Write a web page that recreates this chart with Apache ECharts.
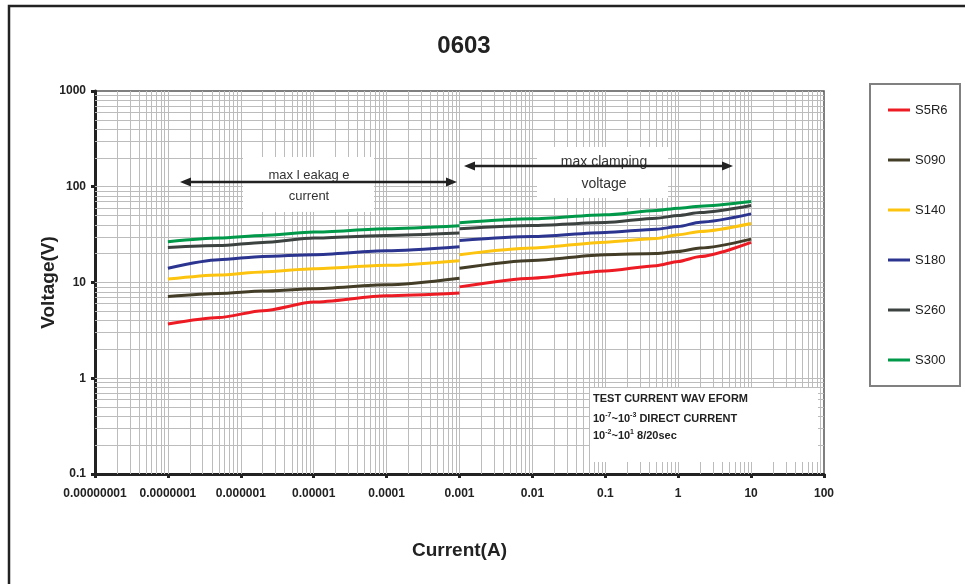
<!DOCTYPE html>
<html>
<head>
<meta charset="utf-8">
<script src="https://cdn.jsdelivr.net/npm/echarts@6/dist/echarts.min.js"></script>
<style>html,body{margin:0;padding:0;background:#fff;}#c{width:965px;height:584px;}</style>
</head>
<body>
<div id="c"></div>
<script>
const seriesNames = ['S5R6', 'S090', 'S140', 'S180', 'S260', 'S300'];
const seriesColors = ['#ed1c24', '#433d27', '#fdc40f', '#2b3590', '#3b4240', '#00994a'];
const xLeak = [1e-7, 5e-7, 2e-6, 1e-5, 1e-4, 1e-3];
const xClamp = [1e-3, 1e-2, 1e-1, 0.5, 1, 2, 10];
const leakS5R6 = [3.68, 4.31, 5.07, 6.24, 7.26, 7.75];
const leakS090 = [7.14, 7.68, 8.13, 8.6, 9.46, 11.1];
const leakS140 = [10.85, 12.0, 12.9, 13.9, 15.1, 16.9];
const leakS180 = [14.1, 17.3, 18.7, 19.5, 21.4, 23.6];
const leakS260 = [23.2, 24.3, 26.2, 29.1, 31.0, 32.8];
const leakS300 = [26.6, 29.1, 31.0, 33.6, 36.4, 39.1];
const clampS5R6 = [9.0, 11.1, 13.2, 15.0, 16.6, 18.7, 26.2];
const clampS090 = [14.1, 17.0, 19.5, 20.1, 21.1, 22.9, 28.4];
const clampS140 = [19.5, 22.9, 26.4, 28.8, 31.5, 34.1, 41.3];
const clampS180 = [27.4, 30.2, 33.3, 36.0, 38.4, 42.7, 52.1];
const clampS260 = [36.4, 39.4, 42.3, 47.0, 50.0, 53.8, 63.7];
const clampS300 = [42.0, 46.2, 50.9, 56.5, 59.8, 62.7, 70.1];
const leakValues = [leakS5R6, leakS090, leakS140, leakS180, leakS260, leakS300];
const clampValues = [clampS5R6, clampS090, clampS140, clampS180, clampS260, clampS300];
const xMin = 1e-8, xMax = 100, yMin = 0.1, yMax = 1000;

const FONT = "'Liberation Sans', Arial, sans-serif";

function gridValues(min, max) {
  const out = [];
  const e0 = Math.round(Math.log10(min)), e1 = Math.round(Math.log10(max));
  for (let e = e0; e < e1; e++) {
    for (let m = 1; m <= 9; m++) {
      if (e === e0 && m === 1) continue;
      out.push(m * Math.pow(10, e));
    }
  }
  return out;
}
function fmt(v) {
  const e = Math.round(Math.log10(v));
  return e < 0 ? '0.' + '0'.repeat(-e - 1) + '1' : String(Math.round(Math.pow(10, e)));
}

const gridLineData = gridValues(xMin, xMax).map(v => ({ coords: [[v, yMin], [v, yMax]] }))
  .concat(gridValues(yMin, yMax).map(v => ({ coords: [[xMin, v], [xMax, v]] })));

const series = [];
series.push({
  type: 'lines', name: 'grid', coordinateSystem: 'cartesian2d', z: 1, silent: true, animation: false,
  polyline: false, effect: { show: false },
  lineStyle: { color: '#bcbcbc', width: 1, opacity: 1, curveness: 0 },
  data: gridLineData
});
seriesNames.forEach((name, i) => {
  const common = {
    type: 'line', name: name, symbol: 'none', smooth: 0.25, smoothMonotone: 'x',
    color: seriesColors[i], lineStyle: { width: 3, color: seriesColors[i] }, z: 3, animation: false
  };
  series.push(Object.assign({}, common, { data: xLeak.map((x, k) => [x, leakValues[i][k]]) }));
  series.push(Object.assign({}, common, { data: xClamp.map((x, k) => [x, clampValues[i][k]]) }));
});

function arrow(x1, x2, y) {
  return [
    { type: 'line', z: 60, shape: { x1: x1 + 6, y1: y, x2: x2 - 6, y2: y }, style: { stroke: '#222', lineWidth: 2.5 } },
    { type: 'polygon', z: 60, shape: { points: [[x1, y], [x1 + 11, y - 4.5], [x1 + 11, y + 4.5]] }, style: { fill: '#222' } },
    { type: 'polygon', z: 60, shape: { points: [[x2, y], [x2 - 11, y - 4.5], [x2 - 11, y + 4.5]] }, style: { fill: '#222' } }
  ];
}

const graphic = [
  { type: 'rect', z: 40, silent: true, shape: { x: 9, y: 6, width: 1100, height: 700 }, style: { fill: 'none', stroke: '#222', lineWidth: 2.5 } },
  { type: 'text', z: 60, x: 464, y: 46, style: { text: '0603', font: 'bold 24px ' + FONT, fill: '#222', align: 'center', verticalAlign: 'middle' } },
  { type: 'rect', z: 50, shape: { x: 243, y: 157, width: 131, height: 55 }, style: { fill: '#fff' } },
  { type: 'rect', z: 50, shape: { x: 537, y: 147, width: 131, height: 51 }, style: { fill: '#fff' } },
  { type: 'rect', z: 50, shape: { x: 590, y: 388, width: 228, height: 74 }, style: { fill: '#fff' } },
  { type: 'text', z: 55, x: 309, y: 175, style: { text: 'max l eakag e', font: '13px ' + FONT, fill: '#333', align: 'center', verticalAlign: 'middle' } },
  { type: 'text', z: 55, x: 309, y: 196, style: { text: 'current', font: '13px ' + FONT, fill: '#333', align: 'center', verticalAlign: 'middle' } },
  { type: 'text', z: 55, x: 604, y: 162, style: { text: 'max clamping', font: '14px ' + FONT, fill: '#333', align: 'center', verticalAlign: 'middle' } },
  { type: 'text', z: 55, x: 604, y: 184, style: { text: 'voltage', font: '14px ' + FONT, fill: '#333', align: 'center', verticalAlign: 'middle' } },
  { type: 'text', z: 55, x: 593, y: 399, style: { text: 'TEST CURRENT WAV EFORM', font: 'bold 11px ' + FONT, fill: '#222', verticalAlign: 'middle' } },
  { type: 'text', z: 55, x: 593, y: 412, style: {
      text: '10{s|-7}~10{s|-3} DIRECT CURRENT', fontSize: 11, fontWeight: 'bold', fontFamily: FONT, fill: '#222', lineHeight: 14,
      rich: { s: { fontSize: 7, fontWeight: 'bold', fontFamily: FONT, fill: '#222', verticalAlign: 'top', lineHeight: 14 } } } },
  { type: 'text', z: 55, x: 593, y: 429, style: {
      text: '10{s|-2}~10{s|1} 8/20sec', fontSize: 11, fontWeight: 'bold', fontFamily: FONT, fill: '#222', lineHeight: 14,
      rich: { s: { fontSize: 7, fontWeight: 'bold', fontFamily: FONT, fill: '#222', verticalAlign: 'top', lineHeight: 14 } } } },
  { type: 'rect', z: 40, shape: { x: 870, y: 84, width: 90, height: 302 }, style: { fill: 'none', stroke: '#808080', lineWidth: 2 } }
].concat(arrow(180, 457, 182), arrow(464, 733, 166));

const chart = echarts.init(document.getElementById('c'), null, { renderer: 'canvas' });
chart.setOption({
  animation: false,
  backgroundColor: '#fff',
  grid: { left: 95, top: 91, width: 729, height: 383, show: true, borderColor: '#555', borderWidth: 1.5, backgroundColor: 'transparent' },
  legend: {
    data: seriesNames, orient: 'vertical', left: 888, top: 102, padding: 0, itemWidth: 22, itemHeight: 3, itemGap: 34,
    icon: 'rect', selectedMode: false,
    textStyle: { fontFamily: FONT, fontSize: 13, color: '#222', lineHeight: 16 }
  },
  xAxis: {
    type: 'log', logBase: 10, min: xMin, max: xMax, interval: 1, splitNumber: 10,
    name: 'Current(A)', nameLocation: 'middle', nameGap: 67, nameMoveOverlap: false,
    nameTextStyle: { fontFamily: FONT, fontSize: 19, fontWeight: 'bold', color: '#222' },
    axisLine: { show: true, onZero: false, lineStyle: { color: '#222', width: 3 } },
    axisTick: { show: true, length: 4, lineStyle: { color: '#222', width: 3 } },
    axisLabel: { formatter: fmt, fontFamily: FONT, fontSize: 12, fontWeight: 'bold', color: '#222', margin: 14 },
    splitLine: { show: false }
  },
  yAxis: {
    type: 'log', logBase: 10, min: yMin, max: yMax, interval: 1, splitNumber: 4,
    name: 'Voltage(V)', nameLocation: 'middle', nameGap: 37, nameMoveOverlap: false,
    nameTextStyle: { fontFamily: FONT, fontSize: 19, fontWeight: 'bold', color: '#222' },
    axisLine: { show: true, onZero: false, lineStyle: { color: '#222', width: 3 } },
    axisTick: { show: true, length: 4, lineStyle: { color: '#222', width: 3 } },
    axisLabel: { formatter: fmt, fontFamily: FONT, fontSize: 12, fontWeight: 'bold', color: '#222', margin: 9 },
    splitLine: { show: false }
  },
  series: series,
  graphic: graphic
});
</script>
</body>
</html>
